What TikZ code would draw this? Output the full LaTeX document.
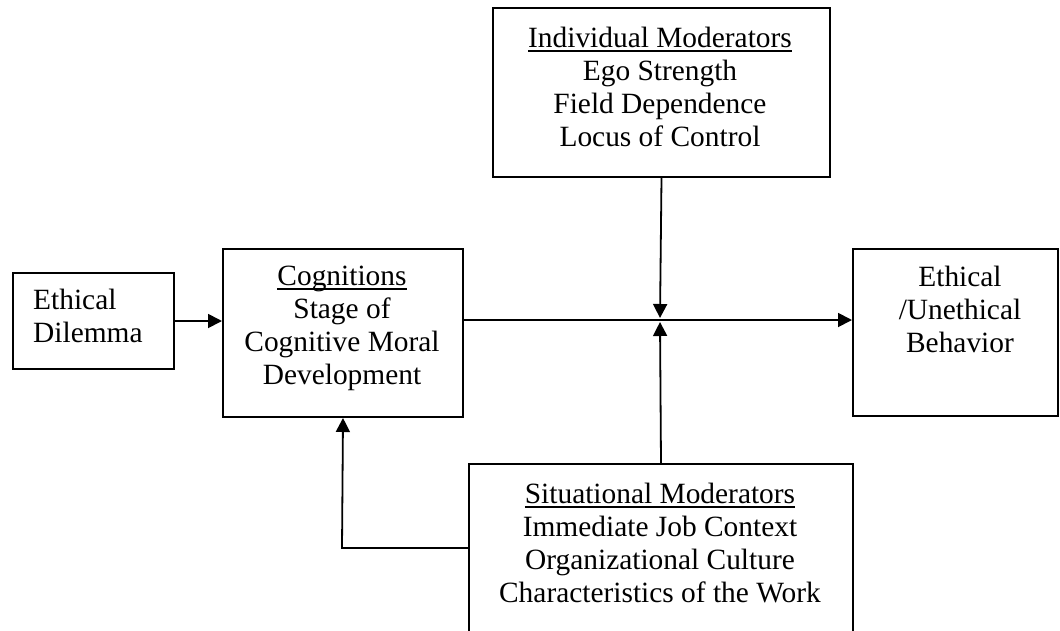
\documentclass[tikz,border=0pt]{standalone}
\usepackage{fontspec}
\setmainfont{Liberation Serif}
\usetikzlibrary{arrows.meta}
% underline drawn as a rule through the descenders
\newcommand{\ulbar}[1]{\setbox0\hbox{#1}\rlap{\rule[-4.6pt]{\wd0}{1.6pt}}\box0}
\begin{document}
\begin{tikzpicture}[x=1pt,y=-1pt,
  box/.style={draw, line width=2pt, inner sep=0pt, anchor=north west},
  txt/.style={font=\fontsize{29.4}{33}\selectfont, align=center, inner sep=0pt, anchor=base},
  link/.style={line width=1.8pt},
  arr/.style={link, -{Triangle[length=14pt,width=14pt]}}]
\useasboundingbox (0,0) rectangle (1060,630);
\clip (0,0) rectangle (1060,630);

% boxes
\node[box, minimum width=161pt, minimum height=96pt]  (dil) at (12,272) {};
\node[box, minimum width=240pt, minimum height=168pt] (cog) at (222,248) {};
\node[box, minimum width=337pt, minimum height=169pt] (ind) at (492,7) {};
\node[box, minimum width=205pt, minimum height=167pt] (beh) at (852,248) {};
\node[box, minimum width=384pt, minimum height=190pt] (sit) at (468,463) {};

% box texts (anchored at the baseline of their last line)
\node[txt, anchor=base west, align=left] (dilT) at (33,342) {Ethical\\Dilemma};
\node[txt] (cogT) at (342,384) {\ulbar{Cognitions}\\Stage of\\Cognitive Moral\\Development};
\node[txt] (indT) at (660,146) {\ulbar{Individual Moderators}\\Ego Strength\\Field Dependence\\Locus of Control};
\node[txt] (behT) at (960,352) {Ethical\\/Unethical\\Behavior};
\node[txt] (sitT) at (660,602) {\ulbar{Situational Moderators}\\Immediate Job Context\\Organizational Culture\\Characteristics of the Work};

% connectors
\coordinate (meet) at (660,320);
\coordinate (fb) at (342,548);
\draw[arr] (dil.east) -- (dil.east -| cog.west);
\draw[arr] (cog.east |- meet) -- (meet -| beh.west);
\draw[arr] (ind.south) -- ([yshift=2pt]meet);
\draw[arr] (sit.north) -- ([yshift=-2pt]meet);
\draw[arr] (sit.west |- fb) -- (fb) -- (cog.south);
\end{tikzpicture}
\end{document}
